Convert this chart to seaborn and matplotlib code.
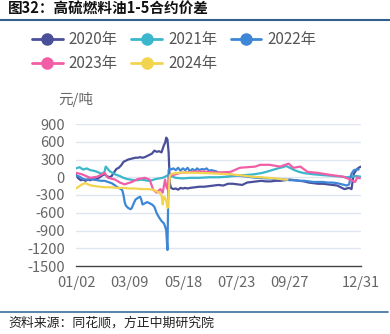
import numpy as np
import pandas as pd
import matplotlib
matplotlib.use("Agg")
import matplotlib.pyplot as plt
from matplotlib.lines import Line2D
import seaborn as sns

# ---- data (trading-day index, spread in 元/吨) ----
years = ["2020年", "2021年", "2022年", "2023年", "2024年"]
colors = ["#4A4F9A", "#3BB7CC", "#3E86D6", "#F25EA6", "#F3D44F"]

t2020 = [0, 2, 4, 6, 8, 10, 12, 14, 16, 18, 20, 22, 24, 26, 28, 30, 32, 34, 36, 38, 40, 42, 44, 46, 48, 50,
         52, 54, 56, 58, 60, 62, 64, 66, 68, 70, 72, 74, 75, 76, 77, 78, 79, 80, 82, 84, 86, 88, 90, 92, 94,
         96, 100, 104, 108, 112, 116, 120, 124, 128, 132, 136, 140, 144, 148, 152, 156, 160, 164, 168, 172,
         176, 180, 184, 188, 192, 196, 200, 204, 208, 212, 216, 220, 222, 224, 226, 228, 230, 232, 233, 234,
         236, 238, 240]
v2020 = [40, -20, -50, -40, -60, -40, -50, -30, -40, -20, 0, 30, 50, 20, 0, 20, 80, 140, 160, 200, 260, 280,
         300, 310, 320, 330, 330, 340, 330, 340, 360, 380, 400, 450, 430, 440, 420, 540, 580, 670, 640, 420,
         -100, -180, -200, -190, -210, -180, -190, -180, -190, -180, -170, -160, -160, -150, -140, -130, -140,
         -110, -110, -120, -130, -90, -80, -70, -60, -70, -70, -60, -60, -50, -40, -50, -60, -70, -90, -100,
         -110, -110, -120, -130, -140, -160, -180, -200, -190, -180, -200, -60, 60, 120, 160, 180]

t2021 = [0, 3, 6, 9, 12, 15, 18, 20, 22, 24, 25, 26, 28, 31, 34, 37, 40, 43, 46, 49, 52, 55, 58, 61, 64, 67,
         70, 73, 76, 78, 80, 84, 90, 96, 104, 112, 120, 128, 136, 144, 150, 156, 160, 165, 170, 174, 177, 180,
         184, 188, 192, 196, 200, 206, 212, 218, 224, 228, 232, 236, 240]
v2021 = [150, 170, 130, 150, 120, 110, 90, 70, 60, 90, 180, 160, 110, 70, 40, 20, -10, -30, -40, -50, -50,
         -40, -50, -60, -50, -30, -20, -10, 20, 40, 20, -10, -20, -10, -10, 0, 0, 10, 30, 40, 50, 70, 90, 120,
         150, 170, 190, 160, 120, 90, 70, 60, 50, 40, 30, 20, 10, 0, 10, 20, 10]

t2022 = [0, 3, 6, 9, 12, 15, 18, 21, 24, 27, 30, 33, 35, 37, 39, 40, 41, 42, 44, 46, 47, 48, 50, 52, 54, 55,
         56, 58, 60, 62, 64, 66, 68, 70, 72, 74, 75, 76, 77, 78, 79, 80, 82, 84, 86, 88, 90, 92, 94, 96, 98,
         100, 102, 104, 106, 108, 110, 112, 114, 116, 118, 120, 122, 124, 128, 132, 136, 140, 144, 148, 152,
         156, 160, 164, 168, 172, 176, 180, 184, 188, 192, 196, 200, 204, 208, 212, 216, 220, 224, 226, 228,
         230, 231, 232, 233, 234, 236, 238]
v2022 = [30, 10, -30, -40, -30, -40, -50, -60, -60, -80, -100, -140, -170, -190, -220, -300, -420, -480,
         -520, -540, -520, -470, -380, -350, -330, -380, -460, -440, -420, -440, -460, -500, -610, -680, -740,
         -780, -830, -900, -1230, 120, 150, 130, 150, 120, 160, 110, 150, 120, 160, 100, 140, 110, 150, 120,
         140, 130, 150, 110, 120, 110, 100, 80, 70, 60, 50, 40, 30, 20, 10, 0, -10, -10, -20, -20, -30, -30,
         -40, -50, -50, -60, -60, -70, -80, -80, -80, -90, -90, -100, -120, -130, -140, -120, -20, 60, 90,
         120, 130, 130]

t2023 = [0, 5, 12, 18, 22, 24, 27, 33, 37, 41, 47, 52, 58, 62, 65, 68, 71, 73, 75, 76, 77, 79, 82, 88, 104,
         118, 130, 138, 151, 155, 163, 172, 179, 183, 189, 195, 203, 214, 225, 231, 235, 237, 239]
v2023 = [75, 50, -10, 10, 50, 75, -10, -40, -90, -120, -80, -30, -10, -40, -210, -260, -200, -260, -40,
         -150, -200, 10, 40, 75, 100, 80, 90, 160, 180, 210, 210, 180, 230, 160, 180, 90, 75, 40, 10, -40,
         -80, 0, -20]

t2024 = [0, 3, 6, 8, 10, 13, 16, 20, 25, 30, 35, 40, 45, 50, 55, 60, 65, 68, 70, 72, 73, 74, 75, 76, 77, 78,
         79, 81, 84, 90, 100, 110, 120, 130, 140, 148, 155, 162, 168, 172, 176, 178]
v2024 = [-190, -150, -110, -100, -120, -140, -150, -160, -170, -170, -180, -180, -190, -190, -200, -200,
         -210, -240, -260, -300, -460, -330, -350, -400, -520, -300, 30, 60, 70, 80, 75, 70, 60, 50, 30, 10,
         0, -10, -20, -30, -40, -40]

tick_pos = [0, 45, 90, 135, 180, 225, 240]
tick_labels = ["01/02", "03/09", "05/18", "07/23", "09/27", "", "12/31"]
y_ticks = [-1500, -1200, -900, -600, -300, 0, 300, 600, 900]

series_t = [t2020, t2021, t2022, t2023, t2024]
series_v = [v2020, v2021, v2022, v2023, v2024]
frames = []
for y, tt, vv in zip(years, series_t, series_v):
    frames.append(pd.DataFrame({"t": tt, "v": vv, "year": y}))
df = pd.concat(frames, ignore_index=True)

# ---- style ----
sns.set_style("white")
plt.rcParams["font.family"] = ["Noto Sans CJK SC", "DejaVu Sans"]
plt.rcParams["axes.unicode_minus"] = False

W, H = 390, 334
fig = plt.figure(figsize=(W / 100, H / 100), dpi=100)
ax = fig.add_axes([76 / W, 68 / H, 285 / W, 142 / H])

sns.lineplot(data=df, x="t", y="v", hue="year", hue_order=years, palette=colors,
             estimator=None, sort=False, linewidth=1.6, ax=ax, legend=False)

ax.set_xlim(0, 240)
ax.set_ylim(-1500, 900)
ax.set_yticks(y_ticks)
ax.set_yticklabels([str(v) for v in y_ticks])
ax.set_xticks(tick_pos)
ax.set_xticklabels(tick_labels)
ax.set_xlabel("")
ax.set_ylabel("")
for yv in y_ticks[1:]:
    ax.axhline(yv, color="#E0E6F1", lw=1.0, zorder=0)
for s in ["left", "right", "top"]:
    ax.spines[s].set_visible(False)
ax.spines["bottom"].set_color("#444444")
ax.spines["bottom"].set_linewidth(1.0)
ax.tick_params(axis="x", length=4, width=1, color="#444444", pad=3, labelsize=10.5, labelcolor="#666666")
ax.tick_params(axis="y", length=0, pad=8, labelsize=10.5, labelcolor="#666666")

# unit label
fig.text(58 / W, 1 - 100 / H, "元/吨", fontsize=10.5, color="#666666", va="center", ha="left")

# legend
handles = [Line2D([0], [0], color=c, lw=2, marker="o", markersize=8) for c in colors]
order = [0, 3, 1, 4, 2]
leg = fig.legend([handles[i] for i in order], [years[i] for i in order], ncol=3, loc="upper left",
                 bbox_to_anchor=(32 / W, 1 - 31 / H), frameon=False, fontsize=11,
                 handlelength=2.0, handletextpad=0.4, columnspacing=0.9, labelspacing=0.45,
                 borderpad=0, borderaxespad=0)
for tx in leg.get_texts():
    tx.set_color("#555555")

# title and source with rules
fig.text(8 / W, 1 - 9 / H, "图32：高硫燃料油1-5合约价差", fontsize=10.5, fontweight="bold",
         color="#111111", va="center", ha="left")
fig.add_artist(Line2D([0, 1], [1 - 19.5 / H, 1 - 19.5 / H], transform=fig.transFigure,
                      color="#2F5F8A", lw=1.5))
fig.add_artist(Line2D([0, 388 / W], [1 - 311.5 / H, 1 - 311.5 / H], transform=fig.transFigure,
                      color="#3B6E9B", lw=1.2))
fig.text(8 / W, 1 - 323 / H, "资料来源：同花顺，方正中期研究院", fontsize=9.3, color="#222222",
         va="center", ha="left")

fig.savefig("out.png", dpi=100)
